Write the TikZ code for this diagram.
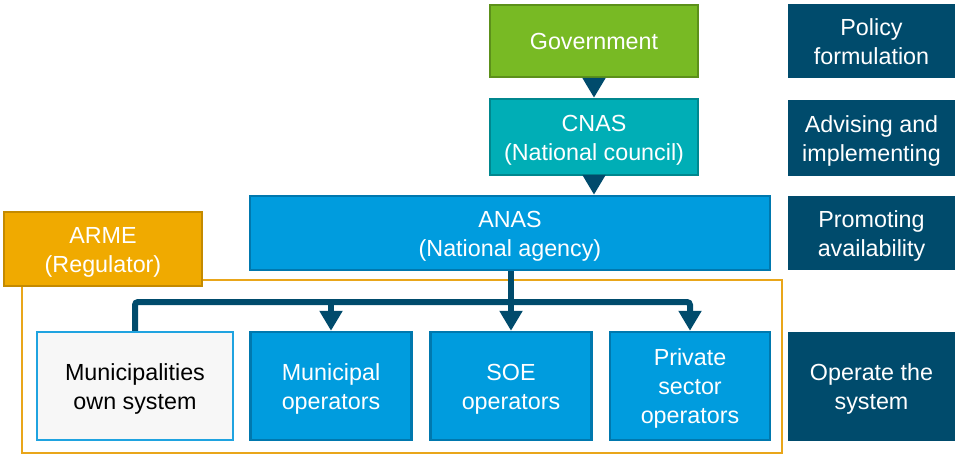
\documentclass[tikz,border=0pt]{standalone}
\usepackage{fontspec}
\setmainfont{Liberation Sans}
\usetikzlibrary{arrows.meta}
\definecolor{govfill}{HTML}{78BA24}
\definecolor{govline}{HTML}{5C901A}
\definecolor{cnasfill}{HTML}{00AEB6}
\definecolor{cnasline}{HTML}{00878E}
\definecolor{bluefill}{HTML}{009CDE}
\definecolor{blueline}{HTML}{0078AE}
\definecolor{darkblue}{HTML}{004B6C}
\definecolor{armefill}{HTML}{F0AA00}
\definecolor{armeline}{HTML}{C48A00}
\definecolor{frameline}{HTML}{E9A61A}
\definecolor{muniline}{HTML}{1FA3E0}
% centred lines of text, set a little low in their box
\newcommand\lines[1]{\raisebox{-3pt}[\height][\depth]{\begin{tabular}{@{}c@{}}#1\end{tabular}}}
\tikzset{
  txt/.style={font=\fontsize{23.3}{29}\selectfont, inner sep=0pt},
  box/.style={txt, draw, line width=2.4pt, text=white},
  govbox/.style={box, fill=govfill, draw=govline},
  cnasbox/.style={box, fill=cnasfill, draw=cnasline},
  bluebox/.style={box, fill=bluefill, draw=blueline},
  armebox/.style={box, fill=armefill, draw=armeline},
  munibox/.style={box, fill=white!97!black, draw=muniline, text=black},
  rolebox/.style={txt, fill=darkblue, text=white},
  conn/.style={draw=darkblue, line width=6pt, rounded corners=3pt,
    -{Triangle[width=22pt,length=20pt]}}
}
\begin{document}
\begin{tikzpicture}[x=1pt, y=-1pt]
\useasboundingbox (0,0) rectangle (955,455);

% operating frame
\draw[frameline, line width=2pt] (22,280) rectangle (782,453);

% hierarchy
\node[govbox, minimum width=208pt, minimum height=72pt] (gov) at (594,41) {\lines{Government}};
\node[cnasbox, minimum width=208pt, minimum height=76pt] (cnas) at (594,137) {\lines{CNAS\\(National council)}};
\node[bluebox, minimum width=520pt, minimum height=74pt] (anas) at (510,233) {\lines{ANAS\\(National agency)}};
\node[armebox, minimum width=198pt, minimum height=74pt] (arme) at (103,249) {\lines{ARME\\(Regulator)}};

\node[munibox, minimum width=196pt, minimum height=108pt] (muni) at (135,386) {\lines{Municipalities\\own system}};
\node[bluebox, minimum width=161pt, minimum height=108pt] (mop) at (331,386) {\lines{Municipal\\operators}};
\node[bluebox, minimum width=161pt, minimum height=108pt] (soe) at (511,386) {\lines{SOE\\operators}};
\node[bluebox, minimum width=160pt, minimum height=108pt] (priv) at (690,386) {\lines{Private\\sector\\operators}};

% role labels
\node[rolebox, minimum width=167pt, minimum height=74pt] (r1) at (871.5,41) {\lines{Policy\\formulation}};
\node[rolebox, minimum width=167pt, minimum height=76pt] (r2) at (871.5,138) {\lines{Advising and\\implementing}};
\node[rolebox, minimum width=167pt, minimum height=74pt] (r3) at (871.5,233) {\lines{Promoting\\availability}};
\node[rolebox, minimum width=167pt, minimum height=109pt] (r4) at (871.5,386.5) {\lines{Operate the\\system}};

% connectors
\coordinate (bar) at (511,302);
\draw[conn] (gov.south) -- (cnas.north);
\draw[conn] (cnas.south) -- (cnas.south |- anas.north);
\draw[conn] (anas.south -| soe.north) -- (soe.north);
\draw[conn] (muni.north) |- (bar -| priv.north) -- (priv.north);
\draw[conn] (bar -| mop.north) -- (mop.north);
\end{tikzpicture}
\end{document}
